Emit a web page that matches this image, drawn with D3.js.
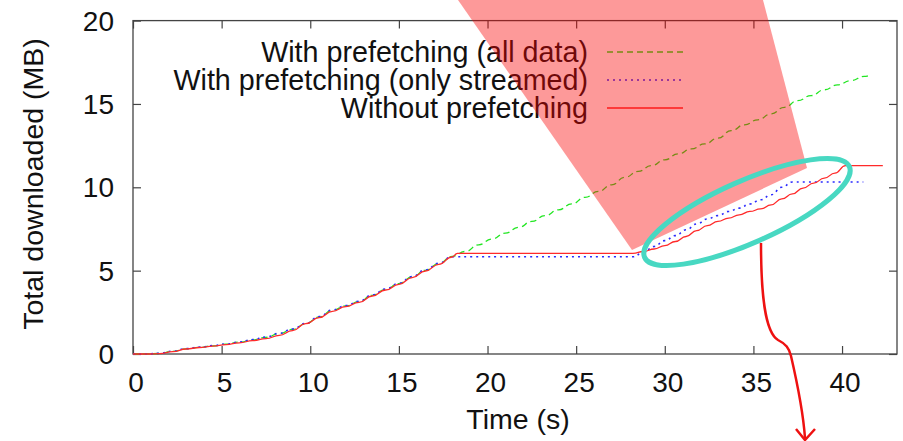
<!DOCTYPE html>
<html>
<head>
<meta charset="utf-8">
<script src="https://cdn.jsdelivr.net/npm/d3@7"></script>
<style>
  body { margin: 0; background: #fff; }
  text { font-family: "Liberation Sans", Arial, Helvetica, sans-serif; fill: #111; }
</style>
</head>
<body>
<div id="chart"></div>
<script>

////////////////////////////////////////////////////////////////////////
// Data: [time (s), total downloaded (MB)]

let allData = [
  [0, 0], [0.75, 0], [1.5, 0.03], [2.25, 0.16], [3, 0.31], [3.75, 0.4], [4.5, 0.49],
  [5.25, 0.59], [6, 0.71], [6.75, 0.85], [7.5, 1.0], [8.25, 1.22], [9, 1.48],
  [9.75, 1.82], [10.5, 2.22], [11.25, 2.62], [12, 2.88], [12.75, 3.14], [13.5, 3.52],
  [14.25, 3.88], [15, 4.22], [15.75, 4.62], [16.5, 5.02], [17.25, 5.42], [18, 5.86],
  [18.75, 6.15], [19.5, 6.55], [20.25, 6.9], [21, 7.25], [21.75, 7.6], [22.5, 7.95],
  [23.25, 8.3], [24, 8.65], [24.75, 9.0], [25.5, 9.4], [26.25, 9.75], [27, 10.15],
  [27.75, 10.6], [28.5, 10.95], [29.25, 11.3], [30, 11.65], [30.75, 12.0], [31.5, 12.3],
  [32.25, 12.6], [33, 12.95], [33.75, 13.4], [34.5, 13.75], [35.25, 14.05], [36, 14.4],
  [36.75, 14.8], [37.5, 15.2], [38.25, 15.5], [39, 15.85], [39.75, 16.15], [40.5, 16.4],
  [41.25, 16.65], [41.6, 16.7]
];

let onlyStreamed = [
  [0, 0], [0.75, 0], [1.5, 0.04], [2.25, 0.17], [3, 0.32], [3.75, 0.41], [4.5, 0.5],
  [5.25, 0.6], [6, 0.72], [6.75, 0.86], [7.5, 1.02], [8.25, 1.24], [9, 1.5],
  [9.75, 1.84], [10.5, 2.24], [11.25, 2.64], [12, 2.9], [12.75, 3.16], [13.5, 3.54],
  [14.25, 3.9], [15, 4.24], [15.75, 4.64], [16.5, 5.04], [17.25, 5.44], [18, 5.83],
  [28.2, 5.83], [28.8, 6.1], [29.4, 6.45], [30, 6.8], [30.6, 7.1], [31.2, 7.45],
  [31.8, 7.8], [32.4, 8.1], [33, 8.3], [33.6, 8.55], [34.2, 8.75], [34.8, 9.0],
  [35.4, 9.25], [36, 9.55], [36.6, 10.0], [37.2, 10.32], [41.2, 10.32]
];

let noPrefetch = [
  [0, 0], [0.75, 0], [1.5, 0.02], [2.25, 0.14], [3, 0.3], [3.75, 0.39], [4.5, 0.47],
  [5.25, 0.56], [6, 0.67], [6.75, 0.8], [7.5, 0.92], [8.25, 1.12], [9, 1.4],
  [9.75, 1.82], [10.5, 2.18], [11.25, 2.56], [12, 2.84], [12.75, 3.1], [13.5, 3.48],
  [14.25, 3.84], [15, 4.18], [15.75, 4.58], [16.5, 4.98], [17.25, 5.38], [18, 5.82],
  [18.3, 6.04], [28.2, 6.04], [28.8, 6.15], [29.4, 6.3], [30, 6.5], [30.6, 6.75],
  [31.2, 7.05], [31.8, 7.4], [32.4, 7.7], [33, 7.95], [33.6, 8.15], [34.2, 8.35],
  [34.8, 8.55], [35.4, 8.7], [36, 8.95], [36.6, 9.3], [37.2, 9.6], [37.8, 9.95],
  [38.4, 10.25], [39, 10.55], [39.6, 10.85], [40.2, 11.3], [42.3, 11.3]
];

let seriesNames = [
  "With prefetching (all data)",
  "With prefetching (only streamed)",
  "Without prefetching"
];

let xTicks = [0, 5, 10, 15, 20, 25, 30, 35, 40];
let yTicks = [0, 5, 10, 15, 20];


////////////////////////////////////////////////////////////////////////
// Svg and scales

let width = 903;
let height = 441;

let svg = d3.select("#chart")
  .append("svg")
  .attr("width", width).attr("height", height);

let xScale = d3.scaleLinear().domain([0, 43.1]).range([133, 897]);
let yScale = d3.scaleLinear().domain([0, 20]).range([354, 20.6]);

let x0 = xScale.range()[0], x1 = xScale.range()[1];
let y0 = yScale.range()[0], y1 = yScale.range()[1];

// styles for the three series, same order as seriesNames
let styles = [
  { data: allData,      color: "#22e622", dash: "6,4", width: 1.3 },
  { data: onlyStreamed, color: "#2a2aff", dash: "2,4", width: 1.6 },
  { data: noPrefetch,   color: "#ff2a2a", dash: null,  width: 1.3 }
];


////////////////////////////////////////////////////////////////////////
// Axes (gnuplot style: inward ticks, mirrored on top and right)

let tickLen = 8;
let axisColor = "#444";

let xAxisBottom = d3.axisBottom(xScale).tickValues(xTicks).tickSize(-tickLen).tickFormat("");
let xAxisTop = d3.axisTop(xScale).tickValues(xTicks).tickSize(-tickLen).tickFormat("");
let yAxisLeft = d3.axisLeft(yScale).tickValues(yTicks).tickSize(-tickLen).tickFormat("");
let yAxisRight = d3.axisRight(yScale).tickValues(yTicks).tickSize(-tickLen).tickFormat("");

svg.append("g").attr("transform", "translate(0," + y0 + ")").call(xAxisBottom);
svg.append("g").attr("transform", "translate(0," + y1 + ")").call(xAxisTop);
svg.append("g").attr("transform", "translate(" + x0 + ",0)").call(yAxisLeft);
svg.append("g").attr("transform", "translate(" + x1 + ",0)").call(yAxisRight);

svg.selectAll(".domain").remove();
svg.selectAll(".tick line").attr("stroke", axisColor).attr("stroke-width", 1.2);

// frame
svg.append("rect")
  .attr("x", x0).attr("y", y1)
  .attr("width", x1 - x0).attr("height", y0 - y1)
  .attr("fill", "none")
  .attr("stroke", axisColor)
  .attr("stroke-width", 1.3);

// tick labels
svg.selectAll(".xlabel")
  .data(xTicks).enter()
  .append("text")
  .attr("class", "xlabel")
  .attr("x", function(d) { return xScale(d) + 3; })
  .attr("y", y0 + 38)
  .attr("text-anchor", "middle")
  .style("font-size", "28px")
  .text(function(d) { return d; });

svg.selectAll(".ylabel")
  .data(yTicks).enter()
  .append("text")
  .attr("class", "ylabel")
  .attr("x", 114)
  .attr("y", function(d) { return yScale(d) + 10; })
  .attr("text-anchor", "end")
  .style("font-size", "28px")
  .text(function(d) { return d; });

// axis titles
svg.append("text")
  .attr("x", 518).attr("y", 429)
  .attr("text-anchor", "middle")
  .style("font-size", "28.5px")
  .text("Time (s)");

svg.append("text")
  .attr("transform", "translate(43,184) rotate(-90)")
  .attr("text-anchor", "middle")
  .style("font-size", "28.5px")
  .text("Total downloaded (MB)");


////////////////////////////////////////////////////////////////////////
// Data lines (bump curve gives the small rise-then-flat staircase look)

let line = d3.line()
  .x(function(d) { return xScale(d[0]); })
  .y(function(d) { return yScale(d[1]); })
  .curve(d3.curveBumpX);

svg.append("g")
  .selectAll(".datapath")
  .data(styles)
  .enter()
  .append("path")
  .attr("class", "datapath")
  .attr("d", function(s) { return line(s.data); })
  .attr("fill", "none")
  .attr("stroke", function(s) { return s.color; })
  .attr("stroke-width", function(s) { return s.width; })
  .attr("stroke-dasharray", function(s) { return s.dash; });


////////////////////////////////////////////////////////////////////////
// Legend (top, right aligned text, sample line to the right)

let legendRows = [52, 80, 108];

let legend = svg.append("g")
  .selectAll(".legend")
  .data(styles)
  .enter()
  .append("g")
  .attr("class", "legend")
  .attr("transform", function(s, i) { return "translate(0," + legendRows[i] + ")"; });

legend.append("text")
  .attr("x", 588).attr("y", 10)
  .attr("text-anchor", "end")
  .style("font-size", "28.7px")
  .text(function(s, i) { return seriesNames[i]; });

legend.append("line")
  .attr("x1", 607).attr("x2", 683)
  .attr("y1", 0).attr("y2", 0)
  .attr("stroke", function(s) { return s.color; })
  .attr("stroke-width", function(s) { return s.width; })
  .attr("stroke-dasharray", function(s) { return s.dash; });


////////////////////////////////////////////////////////////////////////
// Annotations drawn over the plot: translucent red wedge, teal ellipse, red arrow

svg.append("path")
  .attr("d", "M458,0 L763,0 L807,168 L632,250 Z")
  .attr("fill", "rgba(250,0,0,0.4)");

svg.append("ellipse")
  .attr("cx", 747).attr("cy", 212)
  .attr("rx", 112).attr("ry", 31)
  .attr("transform", "rotate(-23.9,747,212)")
  .attr("fill", "none")
  .attr("stroke", "#48d8c2")
  .attr("stroke-width", 5);

svg.append("path")
  .attr("d", "M761,243 C761,295 765,332 778,340 C786,344 789,348 791,356 C797,382 803,410 805,438")
  .attr("fill", "none")
  .attr("stroke", "#ee1111")
  .attr("stroke-width", 2.5);

svg.append("path")
  .attr("d", "M796,429 L805,440 L815,429")
  .attr("fill", "none")
  .attr("stroke", "#ee1111")
  .attr("stroke-width", 2.5);

</script>
</body>
</html>
